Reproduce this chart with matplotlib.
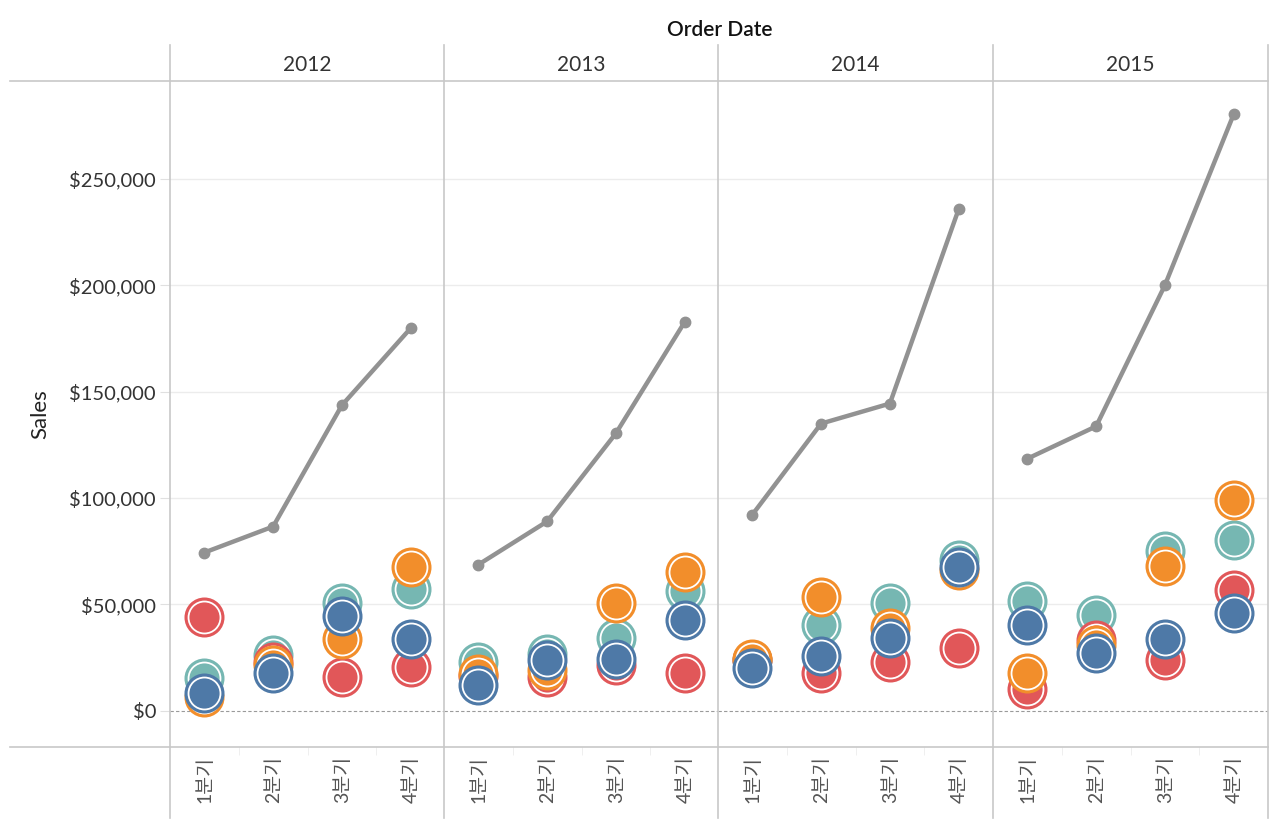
import matplotlib
matplotlib.use("Agg")
import matplotlib.pyplot as plt
from matplotlib.lines import Line2D
from matplotlib.ticker import FuncFormatter

plt.rcParams["font.family"] = ["Lato", "Noto Sans CJK KR", "DejaVu Sans"]

years = ["2012", "2013", "2014", "2015"]
quarters = ["1분기", "2분기", "3분기", "4분기"]

# total sales per quarter (gray line)
total_sales = [
    [74400, 86600, 143600, 179800],
    [68700, 89000, 130400, 182700],
    [92200, 135000, 144400, 235700],
    [118500, 133700, 200000, 280300],
]

# regional sales per quarter
west = [
    [15500, 26400, 50800, 57400],
    [23000, 26800, 34400, 56500],
    [24000, 40500, 50800, 71100],
    [51400, 45200, 75300, 80200],
]
south = [
    [44300, 23000, 16000, 20700],
    [16500, 16000, 21700, 17900],
    [24000, 17900, 23100, 29700],
    [10400, 33400, 24000, 56600],
]
east = [
    [6600, 21700, 33900, 67800],
    [17500, 19300, 50800, 65400],
    [24500, 53700, 39100, 66400],
    [17900, 31100, 67900, 99000],
]
central = [
    [8500, 17900, 44700, 33900],
    [12000, 24000, 24500, 42800],
    [20200, 25900, 34400, 67800],
    [40500, 27300, 33900, 46100],
]

regions = [
    (west, "#76B7B2"),
    (south, "#E15759"),
    (east, "#F28E2B"),
    (central, "#4E79A7"),
]

W, H = 1280, 823
fig = plt.figure(figsize=(W / 100, H / 100), dpi=100)

panel_left = [170, 444, 718, 993]
panel_w = 275
plot_top, plot_bot = 81, 747
line_col = "#c8c8c8"
text_col = "#333333"

x = list(range(4))
for i, year in enumerate(years):
    ax = fig.add_axes([panel_left[i] / W, (H - plot_bot) / H,
                       panel_w / W, (plot_bot - plot_top) / H])
    ax.set_xlim(-0.5, 3.5)
    ax.set_ylim(-17000, 296000)
    for s in ax.spines.values():
        s.set_visible(False)

    for v in [50000, 100000, 150000, 200000, 250000]:
        ax.axhline(v, color="#ececec", lw=1, zorder=0)
    ax.axhline(0, color="#9a9a9a", lw=0.8, ls=(0, (3, 2)), zorder=0)

    ax.plot(x, total_sales[i], color="#929292", lw=3.2, marker="o",
            markersize=7.5, solid_capstyle="round", zorder=2)

    for vals, col in regions:
        ax.scatter(x, vals[i], s=830, color=col, lw=0, zorder=3)
        ax.scatter(x, vals[i], s=530, color=col, edgecolors="white",
                   linewidths=1.3, zorder=3)

    ax.set_xticks(x)
    ax.set_xticklabels(quarters, rotation=90, fontsize=14, color="#555555")
    ax.set_xticks([0.5, 1.5, 2.5], minor=True)
    ax.tick_params(axis="x", which="major", length=0, pad=6.5)
    ax.tick_params(axis="x", which="minor", length=6, color="#ececec")

    ax.set_yticks([0, 50000, 100000, 150000, 200000, 250000])
    if i == 0:
        ax.yaxis.set_major_formatter(FuncFormatter(lambda v, p: f"${v:,.0f}"))
        ax.tick_params(axis="y", length=7, color="#e0e0e0", pad=3,
                       labelsize=14.5, labelcolor=text_col)
        ax.set_ylabel("Sales", fontsize=16, color="#222222", labelpad=14)
    else:
        ax.tick_params(axis="y", length=0, labelleft=False)

    fig.text((panel_left[i] + panel_w / 2) / W, 1 - 65 / H, year,
             ha="center", va="center", fontsize=15, color=text_col)

# frame lines between header / panels / labels
for xp in panel_left + [1268]:
    fig.add_artist(Line2D([xp / W, xp / W], [1 - 45 / H, 1 - 818 / H],
                          color=line_col, lw=1.2))
for yp in [plot_top, plot_bot]:
    fig.add_artist(Line2D([10 / W, 1268 / W], [1 - yp / H, 1 - yp / H],
                          color=line_col, lw=1.2))

fig.text(720 / W, 1 - 30 / H, "Order Date", ha="center", va="center",
         fontsize=15, fontweight="semibold", color="#111111")

plt.savefig("out.png", dpi=100)
